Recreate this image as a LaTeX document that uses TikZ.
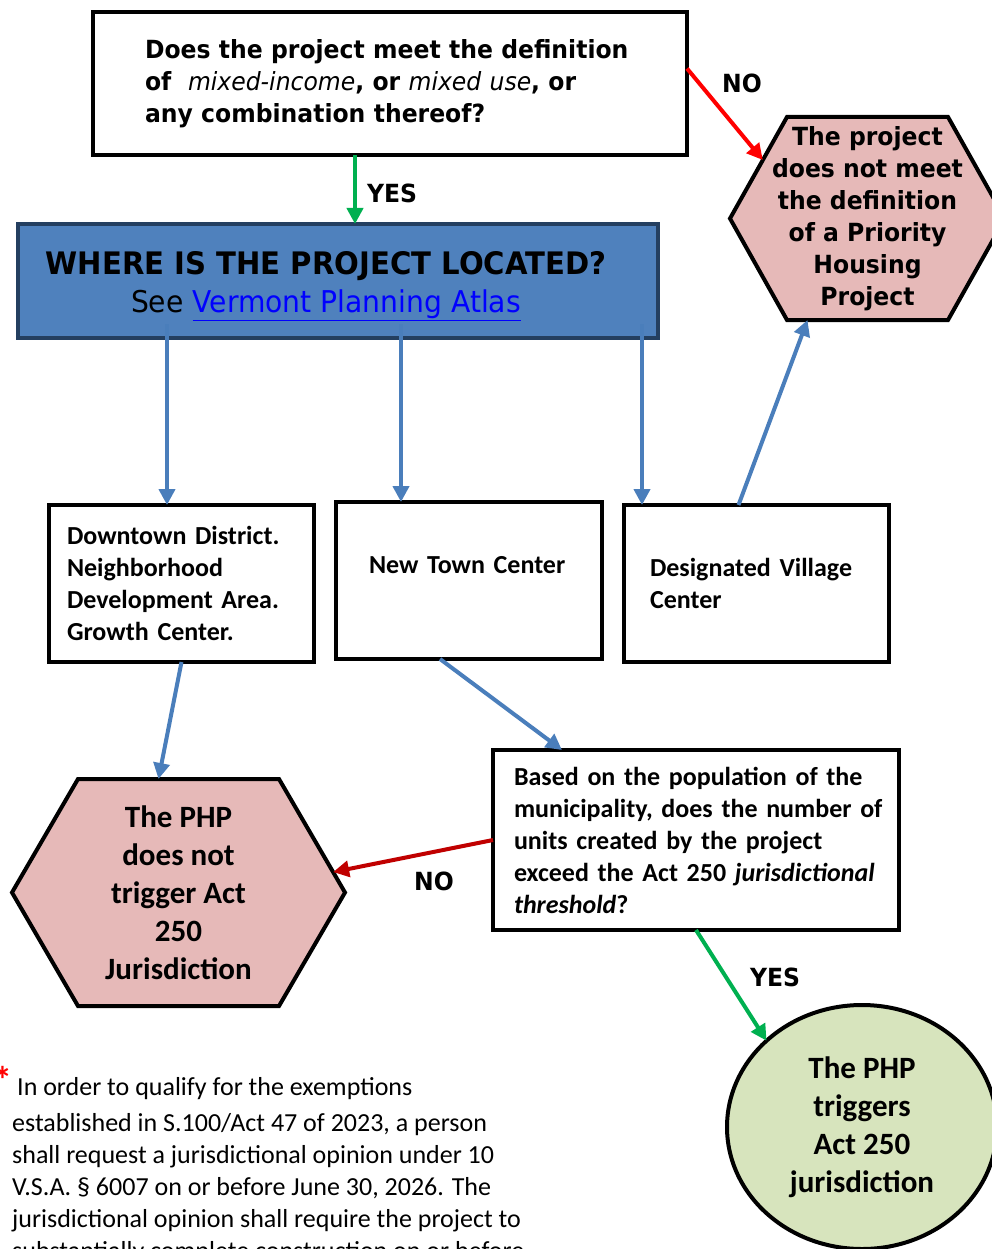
\documentclass[tikz,border=0pt]{standalone}
\usepackage{fontspec}
\usetikzlibrary{arrows.meta,calc,shapes.geometric}
\newfontfamily\tahm{DejaVu Sans}[FakeStretch=0.94]
\newfontfamily\carl{Carlito}
\definecolor{hdrblue}{HTML}{4F81BD}
\definecolor{hdrborder}{HTML}{243F60}
\definecolor{arrblue}{HTML}{4A7EBB}
\definecolor{linkblue}{HTML}{0000FF}
\definecolor{hexpink}{HTML}{E6B9B8}
\definecolor{ellgreen}{HTML}{D7E4BD}
\definecolor{yesgreen}{HTML}{00B050}
\definecolor{noredA}{HTML}{FF0000}
\definecolor{noredB}{HTML}{C00000}
\pgfdeclarelayer{background}
\pgfsetlayers{background,main}
\begin{document}
\begin{tikzpicture}[x=1pt,y=-1pt,
  box/.style={draw=black, line width=4pt, rectangle, inner ysep=0pt, outer sep=0pt, align=left},
  tahb/.style={font=\tahm\bfseries\fontsize{25}{32}\selectfont},
  calb/.style={font=\carl\bfseries\fontsize{26}{32}\selectfont},
  calbig/.style={font=\carl\bfseries\fontsize{31}{38}\selectfont},
  arr/.style={line width=4pt, -{Triangle[length=16pt,width=16pt]}},
  lbl/.style={font=\tahm\bfseries\fontsize{25}{30}\selectfont, inner sep=0pt},
  hexshape/.style={fill=hexpink, draw=black, line width=4pt, line join=miter},
  plain/.style={rectangle, inner sep=0pt, outer sep=0pt, align=center}]
\useasboundingbox (0,0) rectangle (992,1249);
\clip (0,0) rectangle (992,1249);

% top question
\node[box, tahb, minimum width=594pt, minimum height=143pt, text width=490pt, inner xsep=52pt] (top) at (390,83.5)
  {\mbox{Does the project meet the definition}\\\mbox{of~ {\mdseries\itshape mixed-income}, or {\mdseries\itshape mixed use}, or}\\\mbox{any combination thereof?}};

% header
\node[draw=hdrborder, fill=hdrblue, line width=4pt, minimum width=640pt, minimum height=114pt, align=center, inner sep=0pt, outer sep=0pt,
  font=\tahm\fontsize{31}{38}\selectfont] (hdr) at (338,281)
  {\rule{0pt}{34pt}{\bfseries WHERE IS THE PROJECT LOCATED?}\hspace*{24pt}\\{\fontsize{30}{38}\selectfont See \textcolor{linkblue}{\underline{Vermont Planning Atlas}}}\hspace*{24pt}};

% location boxes
\node[box, calb, minimum width=265pt, minimum height=157pt, text width=229pt, inner xsep=18pt] (boxA) at (181.5,583.5)
  {\mbox{Downtown District.}\\\mbox{Neighborhood}\\\mbox{Development Area.}\\\mbox{Growth Center.}};
\node[box, calb, minimum width=266pt, minimum height=157pt, text width=200pt, inner xsep=33pt] (boxB) at (469,580.5)
  {\mbox{New Town Center}\\\mbox{}};
\node[box, calb, minimum width=265pt, minimum height=157pt, text width=213pt, inner xsep=26pt] (boxC) at (756.5,583.5)
  {\mbox{Designated Village}\\\mbox{Center}};

% threshold question
\node[box, calb, minimum width=406pt, minimum height=180pt, text width=364pt, inner xsep=21pt] (qD) at (696,840)
  {\mbox{Based on the population of the}\\\mbox{municipality, does the number of}\\\mbox{units created by the project}\\\mbox{exceed the Act 250 \textit{jurisdictional}}\\\mbox{\textit{threshold}?}};

% hexagons (text nodes, shapes drawn on background)
\node[plain, tahb, minimum width=275pt, minimum height=203pt] (hexR) at (867.5,218.5)
  {The project\\does not meet\\the definition\\of a Priority\\Housing\\Project};
\node[plain, calbig, minimum width=333pt, minimum height=227pt] (hexL) at (178.5,892.5)
  {The PHP\\does not\\trigger Act\\250\\Jurisdiction};
\begin{pgfonlayer}{background}
  \fill[white] (0,0) rectangle (992,1249);
  \path[hexshape] ([xshift=57pt]hexR.north west) -- ([xshift=-57pt]hexR.north east) -- (hexR.east)
     -- ([xshift=-57pt]hexR.south east) -- ([xshift=57pt]hexR.south west) -- (hexR.west) -- cycle;
  \path[hexshape] ([xshift=66pt]hexL.north west) -- ([xshift=-66pt]hexL.north east) -- (hexL.east)
     -- ([xshift=-66pt]hexL.south east) -- ([xshift=66pt]hexL.south west) -- (hexL.west) -- cycle;
\end{pgfonlayer}

% ellipse
\node[ellipse, draw=black, fill=ellgreen, line width=4pt, minimum width=270pt, minimum height=244pt, inner sep=0pt, outer sep=0pt,
  align=center, calbig] (ell) at (862,1127)
  {The PHP\\triggers\\Act 250\\jurisdiction};

% connectors
\draw[arr, yesgreen] ([xshift=-35pt]top.south) -- ([xshift=17pt]hdr.north);
\draw[arr, noredA] ([yshift=15pt]top.east) -- ($(hexR.west)!0.576!([xshift=57pt]hexR.north west)$);
\draw[arr, arrblue] ($(hdr.south -| boxA.north)+(-14.5,-14)$) -- ([xshift=-14.5pt]boxA.north);
\draw[arr, arrblue] ($(hdr.south -| boxB.north)+(-68,-14)$) -- ([xshift=-68pt]boxB.north);
\draw[arr, arrblue] ($(hdr.south -| boxC.north)+(-114.5,-14)$) -- ([xshift=-114.5pt]boxC.north);
\draw[arr, arrblue] ([xshift=-18pt]boxC.north) -- ([xshift=-60pt]hexR.south);
\draw[arr, arrblue] (boxA.south) -- ([xshift=-20pt]hexL.north);
\draw[arr, arrblue] ([xshift=-29pt]boxB.south) -- ([xshift=-134pt]qD.north);
\draw[arr, noredB] (qD.west) -- ($(hexL.east)!0.18!([xshift=-66pt]hexL.north east)$);
\draw[arr, yesgreen] (qD.south) -- (ell.north west);

% labels
\node[lbl] (yes1) at (392,193) {YES};
\node[lbl] (no1) at (742,83) {NO};
\node[lbl] (no2) at (434,881) {NO};
\node[lbl] (yes2) at (775,977) {YES};

% footnote
\node[text=red, font=\carl\bfseries\fontsize{38}{38}\selectfont, inner sep=0pt] (ast) at (3,1080) {*};
\node[font=\carl\fontsize{26}{32}\selectfont, align=left, anchor=north west, inner sep=0pt] (fn) at (12,1077)
  {\hspace*{5pt}In order to qualify for the exemptions\\[4pt]established in S.100/Act 47 of 2023, a person\\shall request a jurisdictional opinion under 10\\V.S.A. § 6007 on or before June 30, 2026. The\\jurisdictional opinion shall require the project to\\substantially complete construction on or before};
\end{tikzpicture}
\end{document}
